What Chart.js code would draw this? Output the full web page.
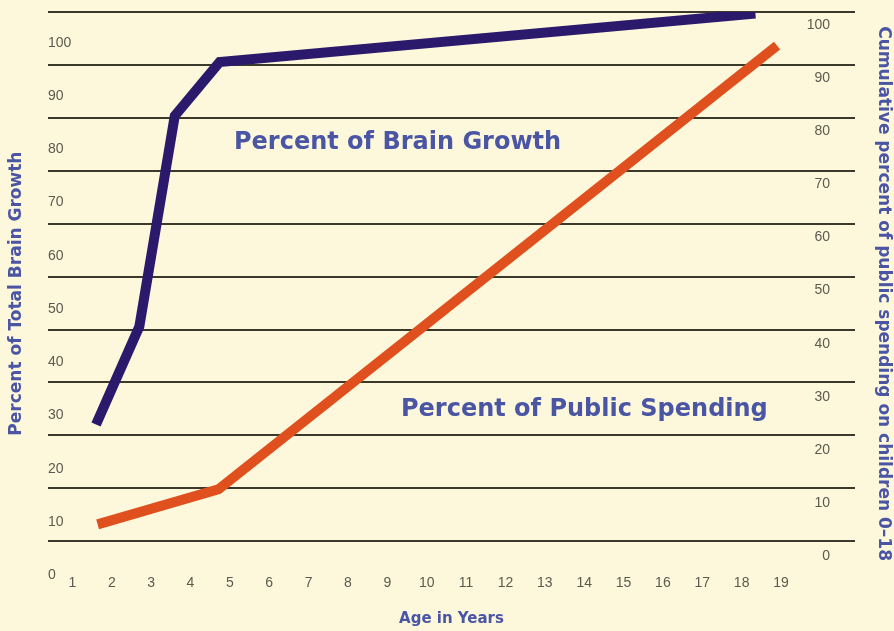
<!DOCTYPE html>
<html>
<head>
<meta charset="utf-8">
<script src="https://cdn.jsdelivr.net/npm/chart.js@4.4.1/dist/chart.umd.min.js"></script>
<style>
  html, body { margin: 0; padding: 0; background: #fdf8dc; }
  #wrap { width: 894px; height: 631px; }
</style>
</head>
<body>
<div id="wrap"><canvas id="brainChart"></canvas></div>
<script>
// values
const xTicks = [1, 2, 3, 4, 5, 6, 7, 8, 9, 10, 11, 12, 13, 14, 15, 16, 17, 18, 19];
const leftTicks = [0, 10, 20, 30, 40, 50, 60, 70, 80, 90, 100];
const rightTicks = [0, 10, 20, 30, 40, 50, 60, 70, 80, 90, 100];
const gridRows = [0, 1, 2, 3, 4, 5, 6, 7, 8, 9, 10];

const brainAges = [1.6, 2.7, 3.6, 4.74, 18.35];
const brainPct = [28.3, 46.7, 86.3, 96.4, 105.5];
const spendAges = [1.64, 4.71, 18.9];
const spendPct = [6.0, 12.6, 96.1];

const titleBlue = '#4a55a4';
const tickGray = '#5b5a4e';

const bgPlugin = {
    id: 'paper',
    beforeDraw(chart) {
        const c = chart.ctx;
        c.save();
        c.fillStyle = '#fdf8dc';
        c.fillRect(0, 0, chart.width, chart.height);
        c.restore();
    }
};

// the two series captions inside the plot
const captions = {
    id: 'captions',
    afterDraw(chart) {
        const c = chart.ctx;
        c.save();
        c.font = 'bold 24px "DejaVu Sans"';
        c.fillStyle = titleBlue;
        c.textBaseline = 'middle';
        c.fillText('Percent of Brain Growth', 234, 143);
        c.fillText('Percent of Public Spending', 401, 410);
        c.restore();
    }
};

const ctx = document.getElementById('brainChart').getContext('2d');
const chart = new Chart(ctx, {
    type: 'line',
    data: {
        datasets: [{
            label: 'Percent of Brain Growth',
            data: brainAges.map((x, i) => ({ x: x, y: brainPct[i] })),
            yAxisID: 'y',
            borderColor: '#2b1a6c',
            borderWidth: 10,
            pointRadius: 0,
            tension: 0,
            fill: false
        }, {
            label: 'Percent of Public Spending',
            data: spendAges.map((x, i) => ({ x: x, y: spendPct[i] })),
            yAxisID: 'y2',
            borderColor: '#e0501e',
            borderWidth: 10,
            pointRadius: 0,
            tension: 0,
            fill: false
        }]
    },
    options: {
        responsive: true,
        maintainAspectRatio: false,
        animation: false,
        layout: { padding: { top: 12, left: 0, right: 0, bottom: 0 } },
        plugins: {
            legend: { display: false },
            tooltip: { enabled: false }
        },
        scales: {
            x: {
                type: 'linear',
                min: 0.38,
                max: 20.88,
                grid: { display: false, drawTicks: false },
                border: { display: false },
                afterBuildTicks: s => { s.ticks = xTicks.map(v => ({ value: v })); },
                ticks: { color: tickGray, padding: 0, font: { family: 'Liberation Sans', size: 14 } },
                title: {
                    display: true,
                    text: 'Age in Years',
                    color: titleBlue,
                    font: { family: 'DejaVu Sans', size: 15, weight: 'bold' },
                    padding: { top: 18, bottom: 3 }
                }
            },
            y: {
                position: 'left',
                min: 0,
                max: 105.8,
                grid: { display: false, drawTicks: false },
                border: { display: false },
                afterBuildTicks: s => { s.ticks = leftTicks.map(v => ({ value: v })); },
                ticks: { mirror: true, padding: 0, color: tickGray, font: { family: 'Liberation Sans', size: 14 } },
                title: {
                    display: true,
                    text: 'Percent of Total Brain Growth',
                    color: titleBlue,
                    font: { family: 'DejaVu Sans', size: 17, weight: 'bold' },
                    padding: { top: 6.8, bottom: 20.8 }
                }
            },
            yg: {
                position: 'left',
                min: -0.642,
                max: 10,
                grid: { color: '#3b3a2a', lineWidth: 2, drawTicks: false },
                border: { display: false },
                afterBuildTicks: s => { s.ticks = gridRows.map(v => ({ value: v })); },
                ticks: { display: false }
            },
            y2: {
                position: 'right',
                min: -3.57,
                max: 102.44,
                grid: { display: false, drawTicks: false },
                border: { display: false },
                afterBuildTicks: s => { s.ticks = rightTicks.map(v => ({ value: v })); },
                ticks: { mirror: true, padding: -25, color: tickGray, font: { family: 'Liberation Sans', size: 14 } },
                title: {
                    display: true,
                    text: 'Cumulative percent of public spending on children 0–18',
                    color: titleBlue,
                    font: { family: 'DejaVu Sans', size: 17, weight: 'bold' },
                    padding: { top: 0, bottom: 68.6 }
                }
            }
        }
    },
    plugins: [bgPlugin, captions]
});
</script>
</body>
</html>
